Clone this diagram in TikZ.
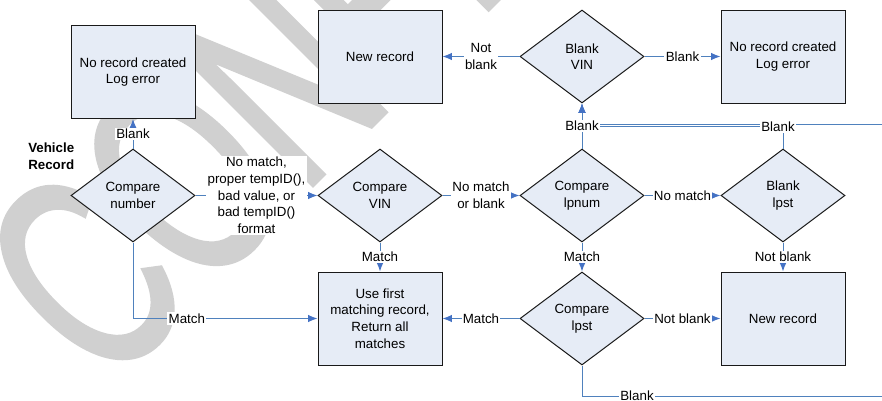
\documentclass[tikz,border=0pt]{standalone}
\usepackage{fontspec}
\setmainfont{Liberation Sans}
\newfontfamily\wmfont[FakeBold=2]{Liberation Sans}
\usetikzlibrary{arrows.meta,shapes.geometric,calc}
\definecolor{boxfill}{RGB}{230,236,246}
\definecolor{conn}{RGB}{79,129,189}
\definecolor{tipc}{RGB}{68,114,196}
\definecolor{wmgray}{RGB}{208,208,208}
\definecolor{edgeblack}{RGB}{25,25,25}
\begin{document}
\begin{tikzpicture}[x=0.75pt,y=-0.75pt,
  txt/.style={font=\fontsize{10}{12.5}\selectfont, align=center},
  procbox/.style={txt, draw=edgeblack, line width=0.75pt, fill=boxfill,
    minimum width=93pt, minimum height=69.75pt, inner sep=0pt},
  decide/.style={txt, diamond, draw=edgeblack, line width=0.75pt, fill=boxfill,
    minimum width=93pt, minimum height=69.75pt, inner sep=0pt},
  lbl/.style={txt, fill=white, inner sep=1pt},
  flow/.style={draw=conn, line width=0.75pt},
  flowarr/.style={flow, -{Latex[length=7pt,width=5.5pt,color=tipc]}},
  wmtext/.style={anchor=base west, rotate=45, text=wmgray, inner sep=0pt,
    font=\wmfont\fontsize{210}{210}\selectfont}
]
\useasboundingbox (0,0) rectangle (882,400);
\fill[white] (0,0) rectangle (882,400);

% watermark
\begin{scope}
\clip (0,0) rectangle (882,400);
\node[wmtext] (wm) at (105.5,391.5) {\scalebox{0.66}[1]{CONFIDENTIAL}};
\end{scope}

% nodes
\node[procbox] (box1) at (133,72) {No record created\\Log error};
\node[procbox] (box2) at (380,56.5) {New record};
\node[decide] (dvin) at (582,56.5) {Blank\\VIN};
\node[procbox] (box3) at (783,56.5) {No record created\\Log error};

\node[decide] (ncmp) at (133,195.5) {Compare\\number};
\node[decide] (vin) at (380,195.5) {Compare\\VIN};
\node[decide] (lpnum) at (582,195.5) {Compare\\lpnum};
\node[decide] (blpst) at (783,195.5) {Blank\\lpst};

\node[procbox] (box4) at (380,318.5) {Use first\\matching record,\\Return all\\matches};
\node[decide] (clpst) at (582,318.5) {Compare\\lpst};
\node[procbox] (box5) at (783,318.5) {New record};

\node[txt, font=\fontsize{10}{12.5}\selectfont\bfseries, align=left, anchor=west, inner sep=0pt]
  (veh) at (28,156) {Vehicle\\Record};

% coordinates for routed connectors
\coordinate (c14a) at (783,126.5);
\coordinate (c14b) at (582,126.5);
\coordinate (c15a) at (582,396);
\coordinate (c15b) at (905,396);
\coordinate (c15c) at (905,124);
\coordinate (c15d) at (582,124);

% long routed connectors first
\draw[flowarr] (clpst.south) -- (c15a) -- (c15b) -- (c15c) -- (c15d) -- (dvin.south);
\draw[flowarr] (blpst.north) -- (c14a) -- (c14b) -- (dvin.south);
\node[lbl] (l15) at (637,396) {Blank};
\node[lbl] (l14) at (778,127) {Blank};

% straight connectors
\draw[flowarr] (ncmp.north) -- node[lbl] (l1) {Blank} (box1.south);
\draw[flowarr] (ncmp.east) -- node[lbl] (l2) {No match,\\proper tempID(),\\bad value, or\\bad tempID()\\format} (vin.west);
\draw[flowarr] (ncmp.south) |- node[lbl, pos=0.646] (l3) {Match} (box4.west);
\draw[flowarr] (vin.south) -- node[lbl] (l4) {Match} (box4.north);
\draw[flowarr] (vin.east) -- node[lbl] (l5) {No match\\or blank} (lpnum.west);
\draw[flowarr] (lpnum.east) -- node[lbl] (l6) {No match} (blpst.west);
\draw[flowarr] (lpnum.north) -- node[lbl] (l7) {Blank} (dvin.south);
\draw[flowarr] (dvin.west) -- node[lbl] (l8) {Not\\blank} (box2.east);
\draw[flowarr] (dvin.east) -- node[lbl] (l9) {Blank} (box3.west);
\draw[flowarr] (lpnum.south) -- node[lbl] (l10) {Match} (clpst.north);
\draw[flowarr] (clpst.west) -- node[lbl] (l11) {Match} (box4.east);
\draw[flowarr] (clpst.east) -- node[lbl] (l12) {Not blank} (box5.west);
\draw[flowarr] (blpst.south) -- node[lbl] (l13) {Not blank} (box5.north);
\end{tikzpicture}
\end{document}
